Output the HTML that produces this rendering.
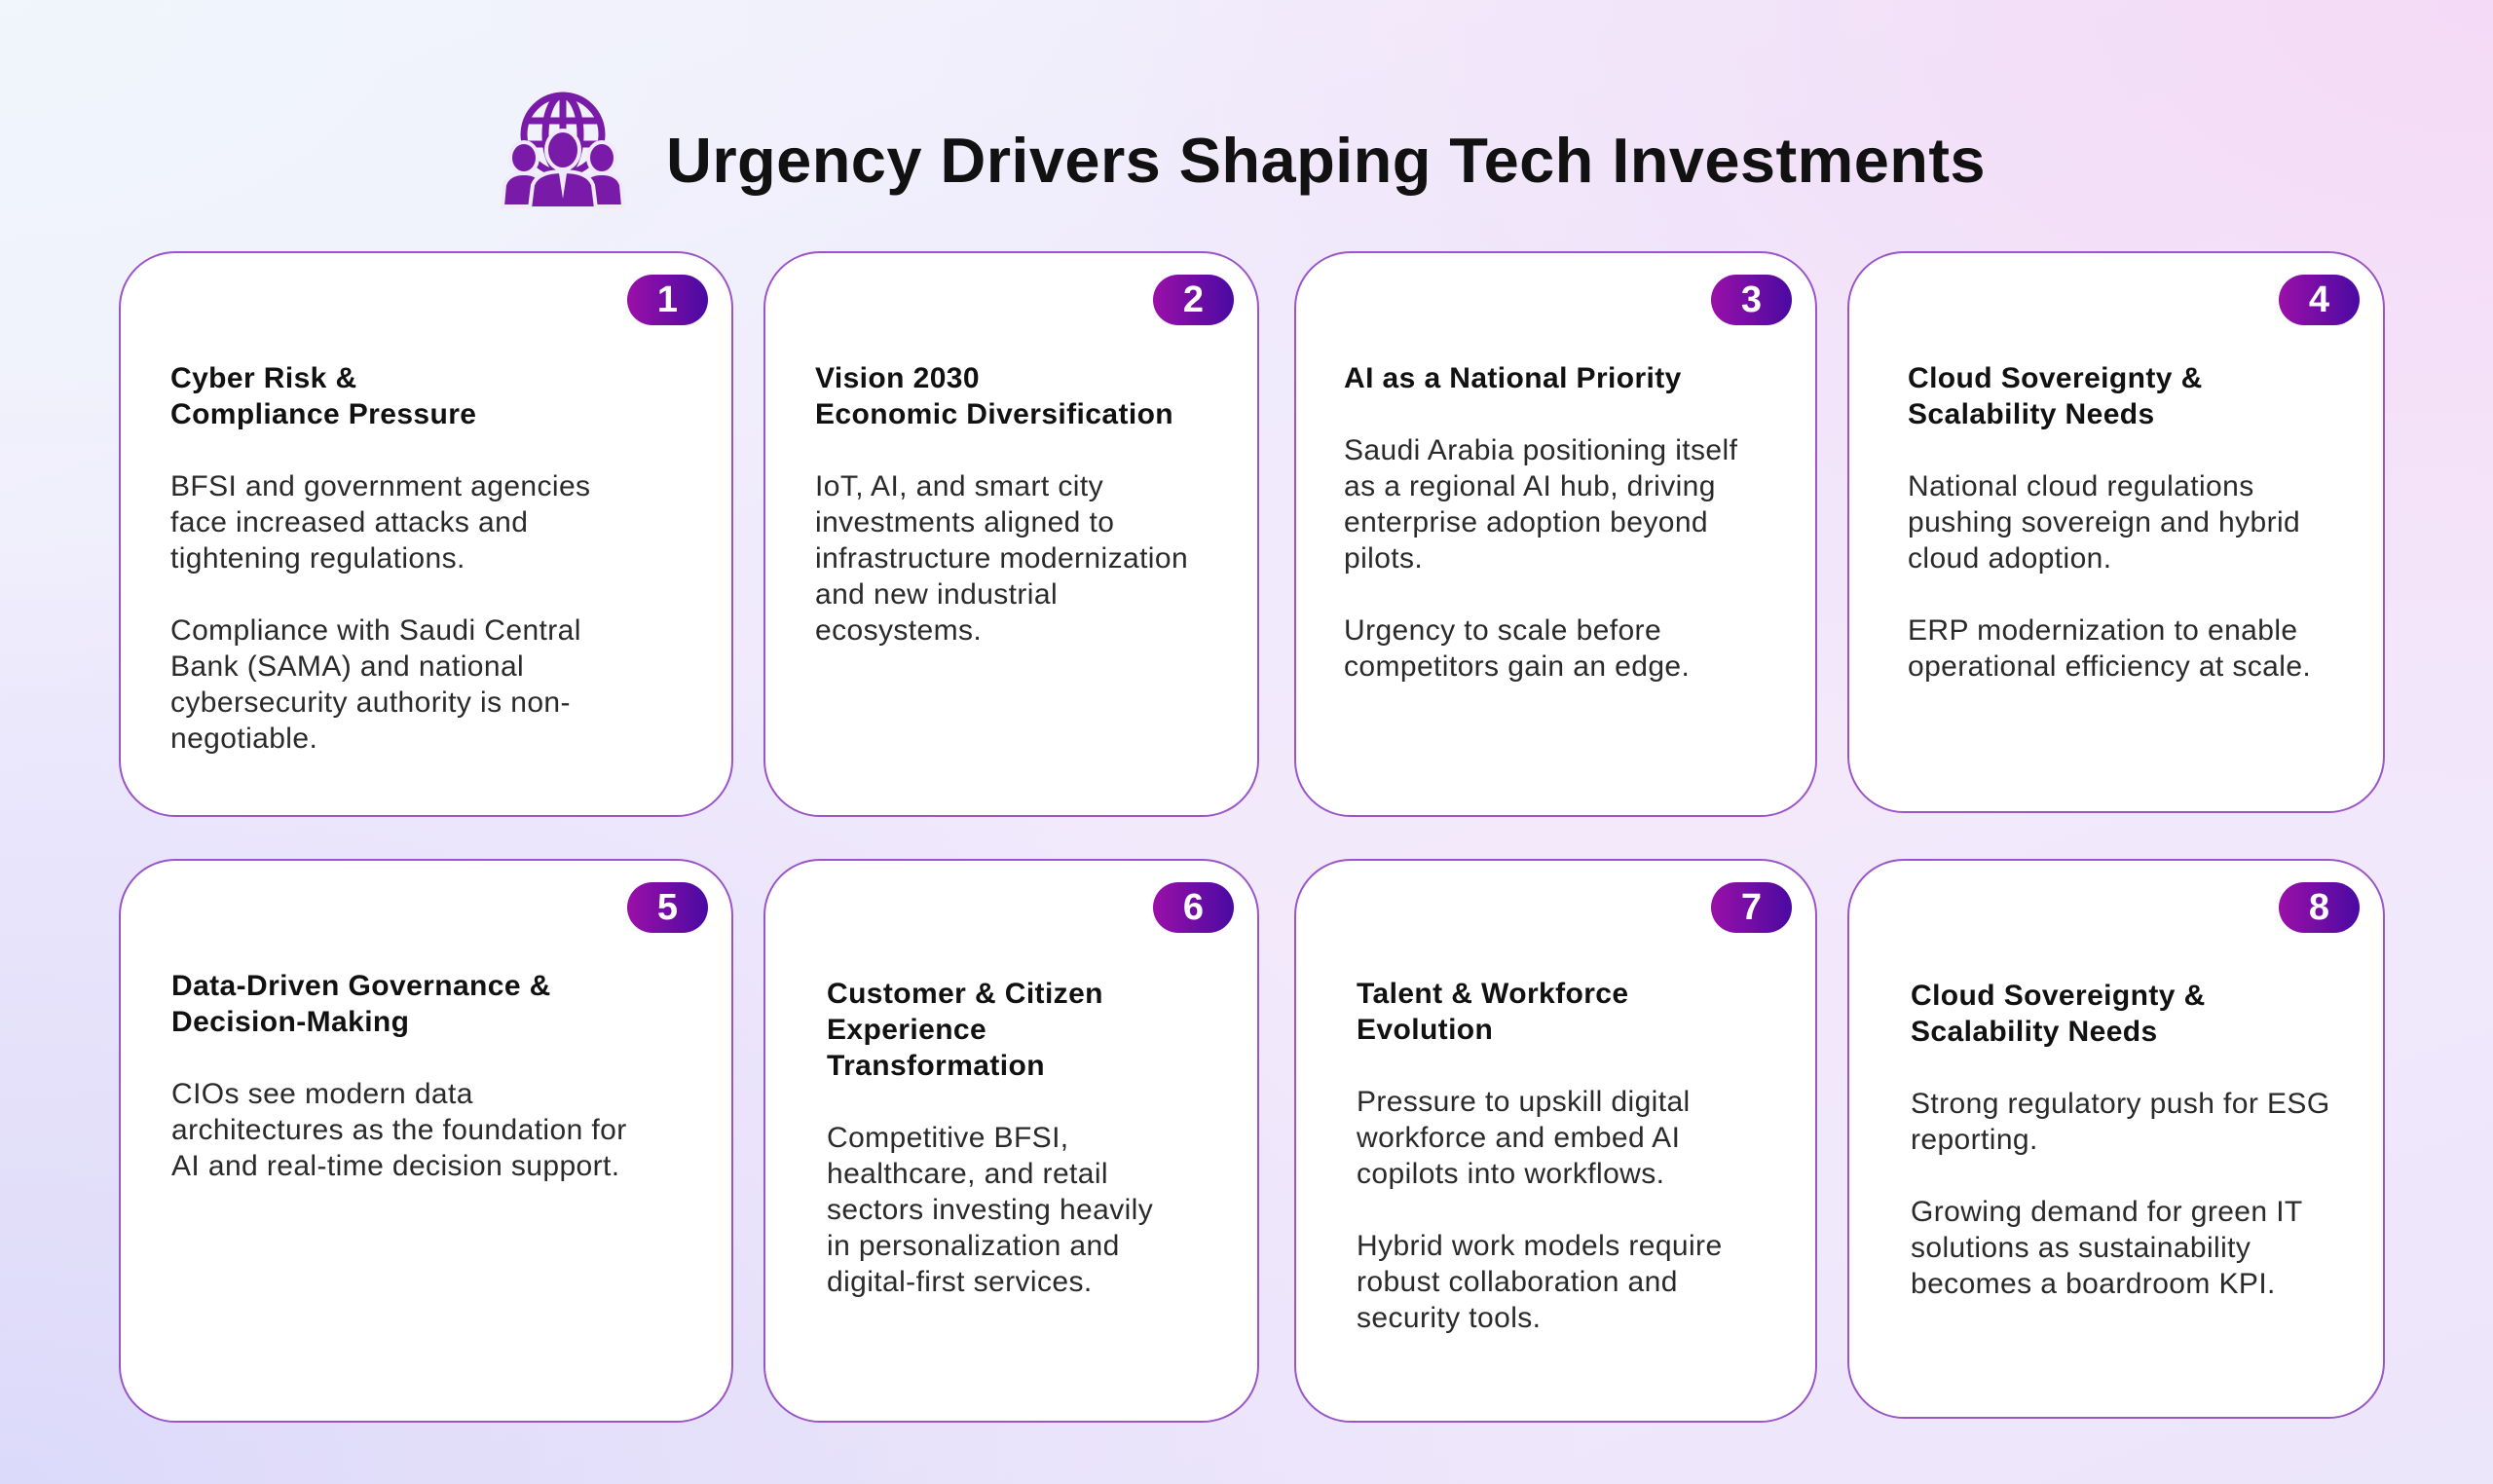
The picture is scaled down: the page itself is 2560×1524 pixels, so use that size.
<!DOCTYPE html>
<html><head><meta charset="utf-8"><style>
html,body{margin:0;padding:0}
body{width:2560px;height:1524px;position:relative;overflow:hidden;font-family:"Liberation Sans",sans-serif;
background:linear-gradient(160deg,#f3f1fb 0%,#efeafc 35%,#f3e9fb 60%,#ece6fb 100%);}
.bg{position:absolute;inset:0;background:radial-gradient(ellipse at 100% 0%,rgba(246,214,244,.8),rgba(246,214,244,0) 40%),radial-gradient(ellipse at 0% 100%,rgba(214,214,250,.8),rgba(214,214,250,0) 45%),radial-gradient(ellipse at 0% 0%,rgba(240,246,252,.9),rgba(240,246,252,0) 35%);}
.title{position:absolute;left:684px;top:127px;font-size:65px;font-weight:bold;color:#111;letter-spacing:0.4px;white-space:nowrap}
.card{position:absolute;background:#fff;border:2px solid #9a55c8;border-radius:58px;box-sizing:border-box}
.badge{position:absolute;right:24px;top:22px;width:83px;height:52px;border-radius:26px;background:linear-gradient(90deg,#9a10a8,#4a0aa2);color:#fff;font-weight:bold;font-size:38px;text-align:center;line-height:52px}
.t{position:absolute;font-size:30px;line-height:37px;color:#2a2a2a;white-space:nowrap;letter-spacing:0.4px}
.t b{color:#111;display:block}
.t p{margin:0}
</style></head><body>
<div class="bg"></div>
<svg style="position:absolute;left:514px;top:92px" width="128" height="122" viewBox="0 0 128 122">
<g fill="none" stroke="#7a1aa8" stroke-width="7">
<circle cx="64" cy="46" r="40"/>
<ellipse cx="64" cy="46" rx="18" ry="40"/>
<line x1="64" y1="6" x2="64" y2="86"/>
<line x1="26" y1="32" x2="102" y2="32"/>
<line x1="24" y1="56" x2="104" y2="56"/>
</g>
<g fill="#7a1aa8" stroke="#efeafc" stroke-width="4">
<ellipse cx="24" cy="70" rx="14" ry="16"/>
<path d="M2 120 L4 98 Q8 86 24 86 Q40 86 44 98 L46 120Z"/>
<ellipse cx="104" cy="70" rx="14" ry="16"/>
<path d="M82 120 L84 98 Q88 86 104 86 Q120 86 124 98 L126 120Z"/>
<ellipse cx="64" cy="62" rx="17" ry="20"/>
<path d="M30 122 L33 98 Q38 84 64 84 Q90 84 95 98 L98 122Z"/>
</g>
<path d="M60 86 L64 112 L68 86Z" fill="#efeafc"/>
</svg>
<div class="title">Urgency Drivers Shaping Tech Investments</div>

<div class="card" style="left:122px;top:258px;width:631px;height:581px"><div class="badge">1</div></div>
<div class="card" style="left:784px;top:258px;width:509px;height:581px"><div class="badge">2</div></div>
<div class="card" style="left:1329px;top:258px;width:537px;height:581px"><div class="badge">3</div></div>
<div class="card" style="left:1897px;top:258px;width:552px;height:577px"><div class="badge">4</div></div>
<div class="card" style="left:122px;top:882px;width:631px;height:579px"><div class="badge">5</div></div>
<div class="card" style="left:784px;top:882px;width:509px;height:579px"><div class="badge">6</div></div>
<div class="card" style="left:1329px;top:882px;width:537px;height:579px"><div class="badge">7</div></div>
<div class="card" style="left:1897px;top:882px;width:552px;height:575px"><div class="badge">8</div></div>

<div class="t" style="left:175px;top:370px"><b>Cyber Risk &amp;<br>Compliance Pressure</b><br>BFSI and government agencies<br>face increased attacks and<br>tightening regulations.<br><br>Compliance with Saudi Central<br>Bank (SAMA) and national<br>cybersecurity authority is non-<br>negotiable.</div>
<div class="t" style="left:837px;top:370px"><b>Vision 2030<br>Economic Diversification</b><br>IoT, AI, and smart city<br>investments aligned to<br>infrastructure modernization<br>and new industrial<br>ecosystems.</div>
<div class="t" style="left:1380px;top:370px"><b>AI as a National Priority</b><br>Saudi Arabia positioning itself<br>as a regional AI hub, driving<br>enterprise adoption beyond<br>pilots.<br><br>Urgency to scale before<br>competitors gain an edge.</div>
<div class="t" style="left:1959px;top:370px"><b>Cloud Sovereignty &amp;<br>Scalability Needs</b><br>National cloud regulations<br>pushing sovereign and hybrid<br>cloud adoption.<br><br>ERP modernization to enable<br>operational efficiency at scale.</div>

<div class="t" style="left:176px;top:994px"><b>Data-Driven Governance &amp;<br>Decision-Making</b><br>CIOs see modern data<br>architectures as the foundation for<br>AI and real-time decision support.</div>
<div class="t" style="left:849px;top:1002px"><b>Customer &amp; Citizen<br>Experience<br>Transformation</b><br>Competitive BFSI,<br>healthcare, and retail<br>sectors investing heavily<br>in personalization and<br>digital-first services.</div>
<div class="t" style="left:1393px;top:1002px"><b>Talent &amp; Workforce<br>Evolution</b><br>Pressure to upskill digital<br>workforce and embed AI<br>copilots into workflows.<br><br>Hybrid work models require<br>robust collaboration and<br>security tools.</div>
<div class="t" style="left:1962px;top:1004px"><b>Cloud Sovereignty &amp;<br>Scalability Needs</b><br>Strong regulatory push for ESG<br>reporting.<br><br>Growing demand for green IT<br>solutions as sustainability<br>becomes a boardroom KPI.</div>
</body></html>
